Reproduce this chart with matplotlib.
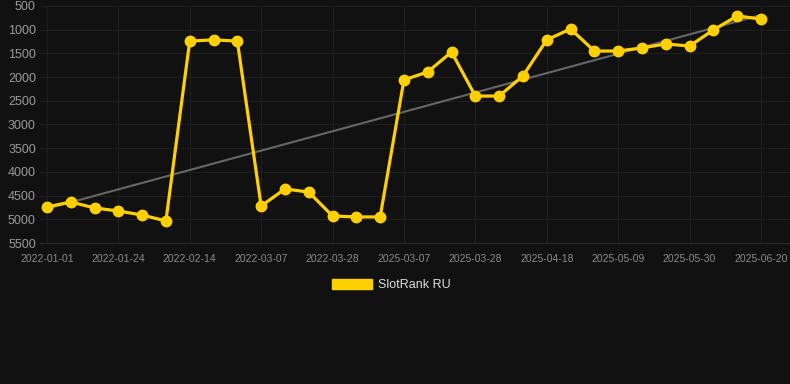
import matplotlib.pyplot as plt
import matplotlib.patches as mpatches
import numpy as np

plt.rcParams['font.family'] = ['Liberation Sans', 'DejaVu Sans']

dates = [
    "2022-01-01", "2022-01-08", "2022-01-16", "2022-01-24", "2022-01-31",
    "2022-02-07", "2022-02-14", "2022-02-21", "2022-02-28", "2022-03-07",
    "2022-03-14", "2022-03-21", "2022-03-28", "2022-04-04", "2022-04-11",
    "2025-03-07", "2025-03-14", "2025-03-21", "2025-03-28", "2025-04-04",
    "2025-04-11", "2025-04-18", "2025-04-25", "2025-05-02", "2025-05-09",
    "2025-05-16", "2025-05-23", "2025-05-30", "2025-06-06", "2025-06-13",
    "2025-06-20",
]
rank = [
    4740, 4635, 4760, 4825, 4910, 5035, 1240, 1215, 1240, 4720,
    4360, 4425, 4930, 4950, 4950, 2060, 1890, 1470, 2400, 2400,
    1975, 1215, 985, 1450, 1450, 1385, 1300, 1345, 1005, 710,
    775,
]
yticks = [500, 1000, 1500, 2000, 2500, 3000, 3500, 4000, 4500, 5000, 5500]

bg = "#111111"
yellow = "#FFD000"

fig = plt.figure(figsize=(7.9, 3.84), dpi=100, facecolor=bg)
ax = fig.add_axes([40 / 790, 1 - 243 / 384, 750 / 790, 237 / 384])
ax.set_facecolor(bg)

x = np.arange(len(dates))

# trend line (least squares fit)
k, b = np.polyfit(x, rank, 1)
ax.plot(x, k * x + b, color="#666666", linewidth=1.5, zorder=2)

ax.plot(x, rank, color=yellow, linewidth=2.3, marker="o", markersize=7.5,
        zorder=3)

ax.set_xlim(-0.29, len(dates) - 1 + 1.22)
ax.set_ylim(5500, 500)
ax.set_yticks(yticks)
ax.set_yticklabels([str(v) for v in yticks])
ax.set_xticks(x[::3])
ax.set_xticklabels(dates[::3])

ax.grid(True, color="#1f1f1f", linewidth=0.8)
ax.set_axisbelow(True)
for side in ["top", "right", "left"]:
    ax.spines[side].set_visible(False)
ax.spines["bottom"].set_color("#282828")

ax.tick_params(axis="y", length=0, pad=3, labelsize=9, labelcolor="#9a9a9a")
ax.tick_params(axis="x", length=0, pad=8, labelsize=7.5, labelcolor="#8a8a8a")

handle = mpatches.Patch(color=yellow, label="SlotRank RU")
leg = fig.legend(handles=[handle], loc="center", bbox_to_anchor=(391 / 790, 1 - 285 / 384),
                 frameon=False, fontsize=9, handlelength=3.2, handleheight=0.9,
                 handletextpad=0.5)
for t in leg.get_texts():
    t.set_color("#dddddd")

fig.savefig("out.png", dpi=100, facecolor=bg)
